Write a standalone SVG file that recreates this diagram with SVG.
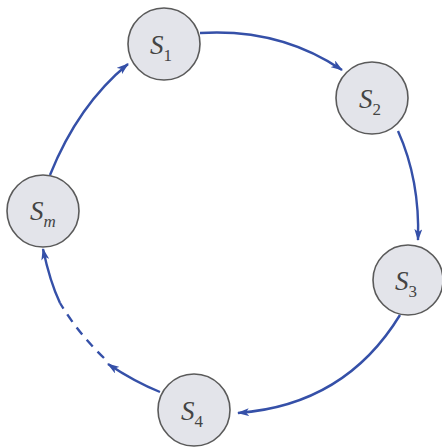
<svg xmlns="http://www.w3.org/2000/svg" width="442" height="448" viewBox="0 0 442 448">
<defs>
<marker id="ah" viewBox="0 0 12 8" refX="11" refY="4" markerWidth="12" markerHeight="8" markerUnits="userSpaceOnUse" orient="auto">
<path d="M0,0 L12,4 L0,8 L3,4 Z" fill="#3550a8"/>
</marker>
<style>
.node circle{fill:#e3e4ea;stroke:#5a5a5a;stroke-width:1.6}
.node text{font-family:"Liberation Serif",serif;font-size:27px;fill:#444;text-anchor:middle}
.sub{font-size:17px}
.edge{fill:none;stroke:#3550a8;stroke-width:2.4}
.dash{stroke-dasharray:9,7}
</style>
</defs>
<rect width="442" height="448" fill="#fff"/>
<g id="connectors">
<path class="edge" d="M200,33 Q280,28 342,70" marker-end="url(#ah)"/>
<path class="edge" d="M398,131 Q420,180 418,240" marker-end="url(#ah)"/>
<path class="edge" d="M400,315 Q345,405 238,413" marker-end="url(#ah)"/>
<path class="edge" d="M160,392 Q135,382 108,364" marker-end="url(#ah)"/>
<path class="edge dash" d="M104,358 Q78,333 60,303"/>
<path class="edge" d="M60,303 Q50,282 43,249" marker-end="url(#ah)"/>
<path class="edge" d="M50,175 Q78,105 128,64" marker-end="url(#ah)"/>
</g>
<g id="S1" class="node"><circle cx="164" cy="44" r="36"/><text x="161" y="54"><tspan font-style="italic">S</tspan><tspan class="sub" dy="7">1</tspan></text></g>
<g id="S2" class="node"><circle cx="372" cy="98" r="36"/><text x="370" y="108"><tspan font-style="italic">S</tspan><tspan class="sub" dy="7">2</tspan></text></g>
<g id="S3" class="node"><circle cx="408" cy="280" r="35"/><text x="406" y="290"><tspan font-style="italic">S</tspan><tspan class="sub" dy="7">3</tspan></text></g>
<g id="S4" class="node"><circle cx="194" cy="410" r="36"/><text x="192" y="420"><tspan font-style="italic">S</tspan><tspan class="sub" dy="7">4</tspan></text></g>
<g id="Sm" class="node"><circle cx="43" cy="211" r="36"/><text x="43" y="220"><tspan font-style="italic">S</tspan><tspan class="sub" font-style="italic" dy="7">m</tspan></text></g>
</svg>
